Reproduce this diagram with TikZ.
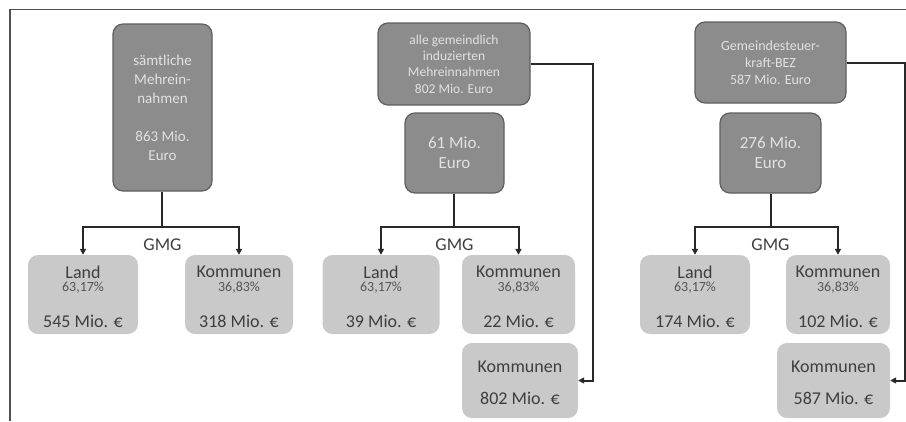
\documentclass[tikz,border=0pt]{standalone}
\usepackage{fontspec}
\setmainfont{Carlito}
\usetikzlibrary{arrows.meta}
\definecolor{darkfill}{RGB}{140,140,140}
\definecolor{darkedge}{RGB}{95,95,95}
\definecolor{lightfill}{RGB}{201,201,201}
\definecolor{darktext}{RGB}{225,225,225}
\definecolor{lighttext}{RGB}{62,62,62}
\definecolor{pcttext}{RGB}{85,85,85}
\definecolor{connc}{RGB}{40,40,40}
\definecolor{framec}{RGB}{80,80,80}
\begin{document}
\begin{tikzpicture}[x=1pt,y=-1pt,
  darkbox/.style={draw=darkedge,fill=darkfill,line width=1.2pt,rounded corners=10pt,
    inner sep=0pt,align=center,text=darktext},
  lightbox/.style={fill=lightfill,rounded corners=10pt,inner sep=0pt},
  big/.style={font=\fontsize{18}{20}\selectfont,text=lighttext,inner sep=0pt},
  pct/.style={font=\fontsize{14}{16}\selectfont,text=pcttext,inner sep=0pt},
  gmg/.style={font=\fontsize{18}{20}\selectfont,text=lighttext,inner sep=0pt},
  arr/.style={draw=connc,line width=2pt,-{Triangle[length=6pt,width=6pt]}},
  conn/.style={draw=connc,line width=2pt},
  frameline/.style={draw=framec,line width=1.5pt}]
\useasboundingbox (0,0) rectangle (906,421);
% frame
\coordinate (FTL) at (10,9.5);
\coordinate (FTR) at (906,9.5);
\coordinate (FBL) at (10,421);
\draw[frameline] (FTR) -- (FTL) -- (FBL);

% ---------- panel 1 ----------
\node[darkbox,minimum width=99pt,minimum height=167pt,font=\fontsize{15}{19}\selectfont]
  (S1) at (162.5,107.5) {sämtliche\\Mehrein-\\nahmen\\[19pt]863 Mio.\\Euro};
\node[lightbox,minimum width=110pt,minimum height=79pt] (L1) at (83,294.5) {};
\node[lightbox,minimum width=108pt,minimum height=79pt] (K1) at (239,294.5) {};
\node[big] (L1a) at (83,272) {Land};
\node[pct] (L1b) at (83,288) {63,17\%};
\node[big] (L1c) at (83,321) {545 Mio. €};
\node[big] (K1a) at (239,272) {Kommunen};
\node[pct] (K1b) at (239,288) {36,83\%};
\node[big] (K1c) at (239,321) {318 Mio. €};
\coordinate (J1) at (162,227);
\draw[conn] (J1 |- S1.south) -- (J1);
\draw[arr] (J1) -| (L1.north);
\draw[arr] (J1) -| (K1.north);
\node[gmg] (G1) at (162.5,245) {GMG};

% ---------- panel 2 ----------
\node[darkbox,minimum width=152pt,minimum height=82pt,font=\fontsize{13.5}{16.3}\selectfont]
  (T2) at (454,64) {alle gemeindlich\\induzierten\\Mehreinnahmen\\802 Mio. Euro};
\node[darkbox,minimum width=99pt,minimum height=80pt,font=\fontsize{17}{20}\selectfont]
  (M2) at (454.5,153) {61 Mio.\\Euro};
\node[lightbox,minimum width=117pt,minimum height=79pt] (L2) at (381,294.5) {};
\node[lightbox,minimum width=113pt,minimum height=79pt] (K2) at (518.5,294.5) {};
\node[lightbox,minimum width=116pt,minimum height=75pt] (B2) at (520,380.5) {};
\node[big] (L2a) at (381,272) {Land};
\node[pct] (L2b) at (381,288) {63,17\%};
\node[big] (L2c) at (381,321) {39 Mio. €};
\node[big] (K2a) at (518.5,272) {Kommunen};
\node[pct] (K2b) at (518.5,288) {36,83\%};
\node[big] (K2c) at (518.5,321) {22 Mio. €};
\node[big] (B2a) at (520,367) {Kommunen};
\node[big] (B2c) at (520,398) {802 Mio. €};
\coordinate (J2) at (454,227);
\draw[conn] (J2 |- M2.south) -- (J2);
\draw[arr] (J2) -| (L2.north);
\draw[arr] (J2) -| (K2.north);
\node[gmg] (G2) at (454.5,245) {GMG};
\coordinate (R2) at (593,64);
\draw[arr] (T2.east) -- (R2) |- (B2.east);

% ---------- panel 3 ----------
\node[darkbox,minimum width=151pt,minimum height=81pt,font=\fontsize{14}{17}\selectfont]
  (T3) at (770.5,62.5) {Gemeindesteuer-\\kraft-BEZ\\587 Mio. Euro};
\node[darkbox,minimum width=101pt,minimum height=80pt,font=\fontsize{17}{20}\selectfont]
  (M3) at (770.5,153) {276 Mio.\\Euro};
\node[lightbox,minimum width=110pt,minimum height=79pt] (L3) at (695,294.5) {};
\node[lightbox,minimum width=104pt,minimum height=79pt] (K3) at (838,294.5) {};
\node[lightbox,minimum width=113pt,minimum height=75pt] (B3) at (833.5,380.5) {};
\node[big] (L3a) at (695,272) {Land};
\node[pct] (L3b) at (695,288) {63,17\%};
\node[big] (L3c) at (695,321) {174 Mio. €};
\node[big] (K3a) at (838,272) {Kommunen};
\node[pct] (K3b) at (838,288) {36,83\%};
\node[big] (K3c) at (838,321) {102 Mio. €};
\node[big] (B3a) at (833.5,367) {Kommunen};
\node[big] (B3c) at (833.5,398) {587 Mio. €};
\coordinate (J3) at (771,227);
\draw[conn] (J3 |- M3.south) -- (J3);
\draw[arr] (J3) -| (L3.north);
\draw[arr] (J3) -| (K3.north);
\node[gmg] (G3) at (770.5,245) {GMG};
\coordinate (R3) at (905,62.5);
\draw[arr] (T3.east) -- (R3) |- (B3.east);
\end{tikzpicture}
\end{document}
